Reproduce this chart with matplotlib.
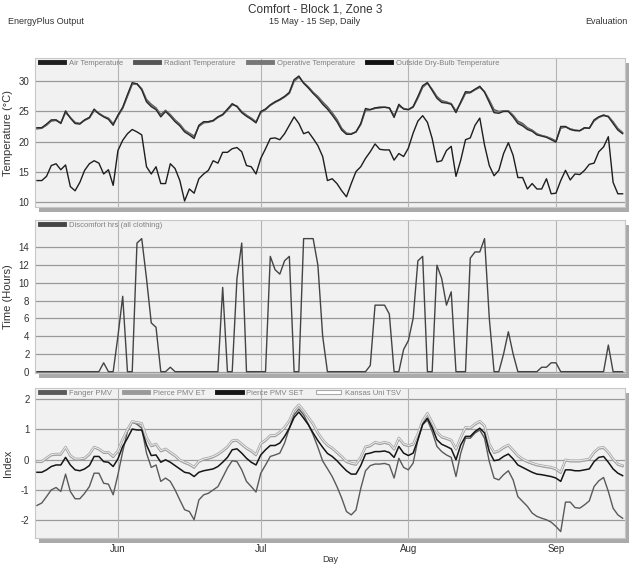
import numpy as np
import pandas as pd
import matplotlib
matplotlib.use("Agg")
import matplotlib.pyplot as plt
import matplotlib.dates as mdates
from matplotlib.lines import Line2D
from matplotlib.patches import Rectangle, Patch

plt.rcParams['font.family'] = ['Liberation Sans Narrow', 'Liberation Sans', 'DejaVu Sans']
plt.rcParams['axes.unicode_minus'] = False

# ---------------- data ----------------
days = pd.date_range("2023-05-15", "2023-09-15", freq="D")

air_temp = [22.3,22.3,22.9,23.6,23.6,23.0,25.1,23.9,23.0,22.9,23.6,24.0,25.4,24.6,24.1,23.7,22.7,24.4,25.7,27.8,29.8,
            29.6,28.6,26.6,25.8,25.3,24.1,25.0,24.2,23.3,22.6,21.6,21.1,20.5,22.7,23.3,23.3,23.5,24.1,24.5,25.4,26.3,
            25.8,24.8,24.2,23.7,23.1,25.0,25.4,26.1,26.6,27.0,27.5,28.2,30.3,30.9,29.7,28.9,28.0,27.2,26.2,25.4,24.4,
            23.3,21.9,21.2,21.2,21.6,23.0,25.5,25.3,25.6,25.7,25.7,25.6,24.0,26.2,25.4,25.3,25.8,27.5,29.3,29.8,
            28.5,27.2,26.5,26.4,26.2,24.8,26.6,28.3,28.2,28.7,29.2,28.2,26.5,24.8,24.7,25.0,25.0,24.1,23.0,22.6,22.0,
            21.7,21.1,20.9,20.7,20.3,19.9,22.5,22.5,22.0,21.8,21.8,22.3,22.2,23.6,24.1,24.4,24.1,23.0,21.9,21.3]
radiant_temp = [22.1,22.2,22.7,23.4,23.5,23.1,24.8,24.0,23.2,23.0,23.5,23.9,25.1,24.7,24.2,23.9,23.0,24.2,25.5,27.5,29.5,
                29.6,28.8,27.0,26.2,25.6,24.5,25.2,24.5,23.6,22.9,21.9,21.4,20.9,22.5,23.1,23.2,23.4,24.0,24.4,25.2,26.1,
                25.9,25.0,24.4,23.9,23.3,24.8,25.3,26.0,26.5,26.9,27.4,28.0,30.0,30.7,29.8,29.1,28.2,27.5,26.6,25.8,24.8,
                23.7,22.2,21.4,21.3,21.6,22.8,25.2,25.3,25.5,25.6,25.7,25.6,24.3,25.9,25.5,25.3,25.7,27.2,29.0,29.7,
                28.7,27.5,26.8,26.6,26.3,25.1,26.4,28.0,28.1,28.6,29.0,28.3,26.9,25.3,25.0,25.1,25.1,24.4,23.4,23.0,22.3,
                21.9,21.3,21.0,20.8,20.5,20.1,22.2,22.4,22.1,21.9,21.8,22.2,22.2,23.4,24.0,24.3,24.2,23.3,22.2,21.5]
operative_temp = [22.2,22.3,22.8,23.5,23.6,23.1,24.9,24.0,23.1,23.0,23.6,24.0,25.2,24.7,24.2,23.8,22.9,24.3,25.6,27.6,29.6,
                  29.6,28.7,26.8,26.0,25.5,24.3,25.1,24.4,23.5,22.8,21.8,21.3,20.7,22.6,23.2,23.3,23.5,24.1,24.5,25.3,26.2,
                  25.9,24.9,24.3,23.8,23.2,24.9,25.4,26.1,26.6,27.0,27.5,28.1,30.1,30.8,29.8,29.0,28.1,27.4,26.4,25.6,24.6,
                  23.5,22.0,21.3,21.3,21.6,22.9,25.3,25.3,25.6,25.7,25.7,25.6,24.2,26.0,25.5,25.3,25.8,27.3,29.1,29.8,
                  28.6,27.4,26.7,26.5,26.3,25.0,26.5,28.1,28.2,28.7,29.1,28.3,26.7,25.0,24.9,25.1,25.1,24.3,23.2,22.8,22.2,
                  21.8,21.2,21.0,20.8,20.4,20.0,22.3,22.5,22.1,21.9,21.8,22.3,22.2,23.5,24.1,24.4,24.2,23.2,22.1,21.4]
outside_temp = [13.5,13.5,14.2,16.0,16.3,15.3,16.1,12.5,11.8,13.2,15.2,16.3,16.8,16.4,14.6,15.3,12.7,18.5,20.2,21.3,22.0,
                21.6,21.1,15.8,14.6,15.8,13.0,13.0,16.3,15.5,13.5,10.1,12.1,11.4,13.8,14.6,15.2,16.8,16.4,18.2,18.2,18.8,
                19.0,18.3,16.0,15.8,14.6,17.2,18.8,20.5,20.6,20.3,21.3,22.7,24.1,23.0,21.3,21.6,20.5,19.3,17.5,13.5,13.8,
                13.0,11.8,10.8,13.0,15.0,15.8,17.2,18.3,19.6,18.7,18.6,18.6,16.9,18.0,17.5,18.9,21.4,23.4,24.3,23.2,
                20.5,16.6,16.8,18.5,19.2,14.2,16.9,20.3,20.6,22.7,23.9,19.4,16.0,14.3,15.2,18.0,19.8,17.7,14.0,14.0,12.1,
                13.0,12.1,12.1,13.8,11.3,11.4,13.5,15.2,13.6,14.6,14.5,15.2,16.2,16.4,18.3,19.1,20.8,13.2,11.3,11.3]

discomfort_hrs = [0,0,0,0,0,0,0,0,0,0,0,0,0,0,1.0,0,0,4.0,8.5,0,0,
                  14.5,15.0,10.5,5.5,5.0,0,0,0.5,0,0,0,0,0,0,0,0,0,0,9.5,0,0,
                  10.5,14.5,0,0,0,0,0,13.0,11.5,11.0,12.5,13.0,0,0,15.0,15.0,15.0,12.0,4.0,0,0,
                  0,0,0,0,0,0,0,0.7,7.5,7.5,7.5,6.5,0,0,2.5,3.5,6.0,12.5,13.0,0,
                  0,12.0,10.5,7.5,9.0,0,0,0,12.8,13.5,13.5,15.0,6.0,0,0,2.0,4.5,2.0,0,0,0,
                  0,0,0.5,0.5,1.0,1.0,0,0,0,0,0,0,0,0,0,0,3.0,0,0,0]

fanger_pmv = [-1.51,-1.43,-1.22,-1.00,-0.92,-1.05,-0.48,-1.05,-1.29,-1.29,-1.11,-0.89,-0.45,-0.45,-0.78,-0.81,-1.16,-0.50,0.26,0.92,1.23,
              1.16,1.03,0.21,-0.26,-0.18,-0.72,-0.61,-0.72,-1.00,-1.33,-1.65,-1.71,-1.98,-1.33,-1.16,-1.11,-1.00,-0.89,-0.59,-0.28,-0.04,
              -0.07,-0.34,-0.72,-0.89,-1.07,-0.45,-0.18,0.10,0.15,0.21,0.54,1.03,1.47,1.66,1.47,1.16,0.81,0.40,-0.05,-0.30,
              -0.56,-0.89,-1.27,-1.71,-1.82,-1.66,-0.95,-0.37,-0.20,-0.15,-0.15,-0.13,-0.18,-0.61,0.04,-0.26,-0.34,-0.12,0.65,1.14,1.30,
              0.92,0.43,0.26,0.15,0.07,-0.56,0.21,0.70,0.70,0.87,0.97,0.70,-0.07,-0.61,-0.67,-0.50,-0.37,-0.67,-1.22,-1.38,-1.54,
              -1.76,-1.87,-1.93,-1.98,-2.06,-2.20,-2.37,-1.40,-1.40,-1.58,-1.60,-1.49,-1.36,-0.89,-0.70,-0.59,-1.05,-1.60,-1.82,-1.93]
pierce_et = [-0.09,-0.09,0.02,0.13,0.15,0.15,0.39,0.10,-0.01,-0.01,0.02,0.15,0.39,0.32,0.21,0.21,0.07,0.26,0.65,0.97,1.23,
             1.19,1.16,0.70,0.43,0.48,0.26,0.32,0.21,0.10,-0.04,-0.12,-0.18,-0.28,-0.09,-0.01,0.02,0.07,0.15,0.26,0.39,0.59,
             0.61,0.48,0.35,0.26,0.13,0.50,0.61,0.76,0.76,0.87,1.03,1.25,1.60,1.77,1.58,1.36,1.14,0.85,0.62,0.45,
             0.35,0.21,0.07,-0.09,-0.15,-0.18,0.05,0.39,0.43,0.54,0.50,0.54,0.50,0.32,0.68,0.48,0.43,0.48,0.81,1.25,1.49,
             1.19,0.87,0.72,0.67,0.61,0.32,0.70,1.03,1.01,1.14,1.23,1.08,0.48,0.21,0.26,0.37,0.45,0.28,0.10,-0.01,-0.09,
             -0.15,-0.20,-0.23,-0.26,-0.28,-0.34,-0.45,-0.04,-0.07,-0.07,-0.07,-0.04,-0.01,0.21,0.35,0.37,0.21,-0.01,-0.18,-0.23]
pierce_set = [-0.42,-0.42,-0.34,-0.23,-0.18,-0.18,0.07,-0.18,-0.34,-0.37,-0.31,-0.20,0.10,0.10,-0.07,-0.09,-0.23,0.02,0.43,0.70,1.00,
              0.97,0.97,0.48,0.13,0.15,-0.09,-0.01,-0.09,-0.20,-0.31,-0.42,-0.45,-0.56,-0.42,-0.37,-0.34,-0.31,-0.23,-0.09,0.07,0.32,
              0.35,0.21,0.04,-0.09,-0.18,0.15,0.32,0.46,0.46,0.54,0.76,1.03,1.38,1.56,1.36,1.14,0.87,0.62,0.40,0.20,
              0.10,-0.04,-0.21,-0.37,-0.48,-0.48,-0.20,0.18,0.21,0.26,0.26,0.28,0.23,0.07,0.43,0.21,0.13,0.21,0.65,1.16,1.36,
              1.05,0.65,0.50,0.43,0.35,-0.01,0.48,0.76,0.76,0.92,1.03,0.87,0.26,-0.04,-0.01,0.10,0.18,0.02,-0.18,-0.26,-0.34,
              -0.42,-0.48,-0.50,-0.53,-0.56,-0.61,-0.72,-0.34,-0.34,-0.37,-0.37,-0.34,-0.31,-0.07,0.07,0.10,-0.09,-0.31,-0.45,-0.53]
kansas_tsv = [-0.06,-0.06,0.05,0.16,0.18,0.18,0.41,0.13,0.02,0.02,0.05,0.18,0.41,0.35,0.24,0.24,0.10,0.29,0.67,0.99,1.25,
              1.22,1.19,0.73,0.46,0.51,0.29,0.35,0.24,0.13,-0.01,-0.09,-0.15,-0.25,-0.06,0.02,0.05,0.10,0.18,0.29,0.42,0.62,
              0.64,0.51,0.38,0.29,0.16,0.53,0.64,0.79,0.79,0.90,1.06,1.28,1.63,1.80,1.61,1.39,1.17,0.88,0.65,0.48,
              0.38,0.24,0.10,-0.06,-0.12,-0.15,0.08,0.42,0.46,0.57,0.53,0.57,0.53,0.35,0.71,0.51,0.46,0.51,0.84,1.28,1.52,
              1.22,0.90,0.75,0.70,0.64,0.35,0.73,1.06,1.04,1.17,1.26,1.11,0.51,0.24,0.29,0.40,0.48,0.31,0.13,0.02,-0.06,
              -0.12,-0.17,-0.20,-0.23,-0.25,-0.31,-0.42,-0.01,-0.04,-0.04,-0.04,-0.01,0.02,0.24,0.38,0.40,0.24,0.02,-0.15,-0.20]

month_ticks = ["2023-06-01", "2023-07-01", "2023-08-01", "2023-09-01"]
month_labels = ["Jun", "Jul", "Aug", "Sep"]

# ---------------- figure ----------------
W, H = 629, 565
fig = plt.figure(figsize=(W / 100, H / 100), dpi=100)
fig.patch.set_facecolor("white")

TXT = "#333333"
GRID = "#9a9a9a"
VGRID = "#b4b4b4"

def px_axes(left, top, right, bottom):
    fig.add_artist(Rectangle(((left + 4) / W, 1 - (bottom + 5) / H), (right - left) / W, (bottom - top) / H,
                             transform=fig.transFigure, facecolor="#aaaaaa", edgecolor="none", zorder=-2))
    ax = fig.add_axes([left / W, 1 - bottom / H, (right - left) / W, (bottom - top) / H])
    ax.set_facecolor("#f1f1f1")
    for s in ax.spines.values():
        s.set_color("#c8c8c8")
        s.set_linewidth(0.8)
    return ax

x = mdates.date2num(days)
x0 = x[0]
tick_pos = mdates.date2num(pd.to_datetime(month_ticks))

def style(ax, yticks, ylim, show_x=False):
    ax.set_xlim(x0 - 0.42, x0 + 123.5)
    ax.set_ylim(*ylim)
    ax.set_yticks(yticks)
    ax.set_xticks(tick_pos)
    ax.tick_params(axis="both", length=0, labelsize=7, colors=TXT, pad=4)
    if show_x:
        ax.set_xticklabels(month_labels)
    else:
        ax.set_xticklabels([])
    for yv in yticks:
        ax.axhline(yv, color=GRID, lw=0.9, zorder=1)
    for xv in tick_pos:
        ax.axvline(xv, color=VGRID, lw=0.8, zorder=1)

# Panel 1
ax1 = px_axes(35, 58, 625, 207)
style(ax1, [10, 15, 20, 25, 30], (9.1, 33.9))
ax1.plot(x, outside_temp, color="#1e1e1e", lw=1.0, zorder=3)
ax1.plot(x, radiant_temp, color="#555555", lw=1.0, zorder=3)
ax1.plot(x, operative_temp, color="#777777", lw=1.0, zorder=3)
ax1.plot(x, air_temp, color="#2a2a2a", lw=1.0, zorder=4)
ax1.set_ylabel("Temperature (°C)", fontsize=8, color=TXT, labelpad=6)
h1 = [Line2D([], [], color="#1e1e1e", lw=3.5), Line2D([], [], color="#555555", lw=3.5),
      Line2D([], [], color="#777777", lw=3.5), Line2D([], [], color="#111111", lw=3.5)]
l1 = ["Air Temperature", "Radiant Temperature", "Operative Temperature", "Outside Dry-Bulb Temperature"]

# Panel 2
ax2 = px_axes(35, 220, 625, 373)
style(ax2, [0, 2, 4, 6, 8, 10, 12, 14], (-0.15, 17.1))
ax2.plot(x, discomfort_hrs, color="#444444", lw=1.0, zorder=3)
ax2.set_ylabel("Time (Hours)", fontsize=8, color=TXT, labelpad=6)
h2 = [Line2D([], [], color="#444444", lw=3.5)]
l2 = ["Discomfort hrs (all clothing)"]

# Panel 3
ax3 = px_axes(35, 388, 625, 538)
style(ax3, [-2, -1, 0, 1, 2], (-2.58, 2.35), show_x=True)
ax3.plot(x, fanger_pmv, color="#5a5a5a", lw=1.0, zorder=3)
ax3.plot(x, pierce_set, color="#151515", lw=1.1, zorder=4)
ax3.plot(x, pierce_et, color="#999999", lw=1.2, zorder=3)
ax3.plot(x, kansas_tsv, color="#a8a8a8", lw=1.8, zorder=3)
ax3.plot(x, kansas_tsv, color="#f4f4f4", lw=0.6, zorder=3)
ax3.set_ylabel("Index", fontsize=8, color=TXT, labelpad=6)
h3 = [Line2D([], [], color="#5a5a5a", lw=3.5), Line2D([], [], color="#999999", lw=3.5),
      Line2D([], [], color="#151515", lw=3.5), Patch(facecolor="white", edgecolor="#aaaaaa", lw=0.8)]
l3 = ["Fanger PMV", "Pierce PMV ET", "Pierce PMV SET", "Kansas Uni TSV"]

for ax, hh, ll in [(ax1, h1, l1), (ax2, h2, l2), (ax3, h3, l3)]:
    leg = ax.legend(hh, ll, loc="upper left", bbox_to_anchor=(0.0, 1.02), ncol=len(ll), frameon=False,
                    fontsize=5.5, handlelength=3.2, handleheight=0.6, columnspacing=1.6, handletextpad=0.6,
                    borderaxespad=0.2)
    for t in leg.get_texts():
        t.set_color("#808080")
    leg.set_zorder(6)

for ax in (ax1, ax2, ax3):
    ax.yaxis.set_label_coords(-0.038, 0.5)

# Titles
fig.text(315 / W, 1 - 10 / H, "Comfort - Block 1, Zone 3", ha="center", va="center", fontsize=8.5, color=TXT)
fig.text(315 / W, 1 - 22 / H, "15 May - 15 Sep, Daily", ha="center", va="center", fontsize=6.5, color=TXT)
fig.text(8 / W, 1 - 22 / H, "EnergyPlus Output", ha="left", va="center", fontsize=6.5, color=TXT)
fig.text(627 / W, 1 - 22 / H, "Evaluation", ha="right", va="center", fontsize=6.5, color=TXT)
fig.text(330 / W, 1 / H, "Day", ha="center", va="bottom", fontsize=6.5, color=TXT)

fig.savefig("out.png", dpi=100, facecolor="white")
